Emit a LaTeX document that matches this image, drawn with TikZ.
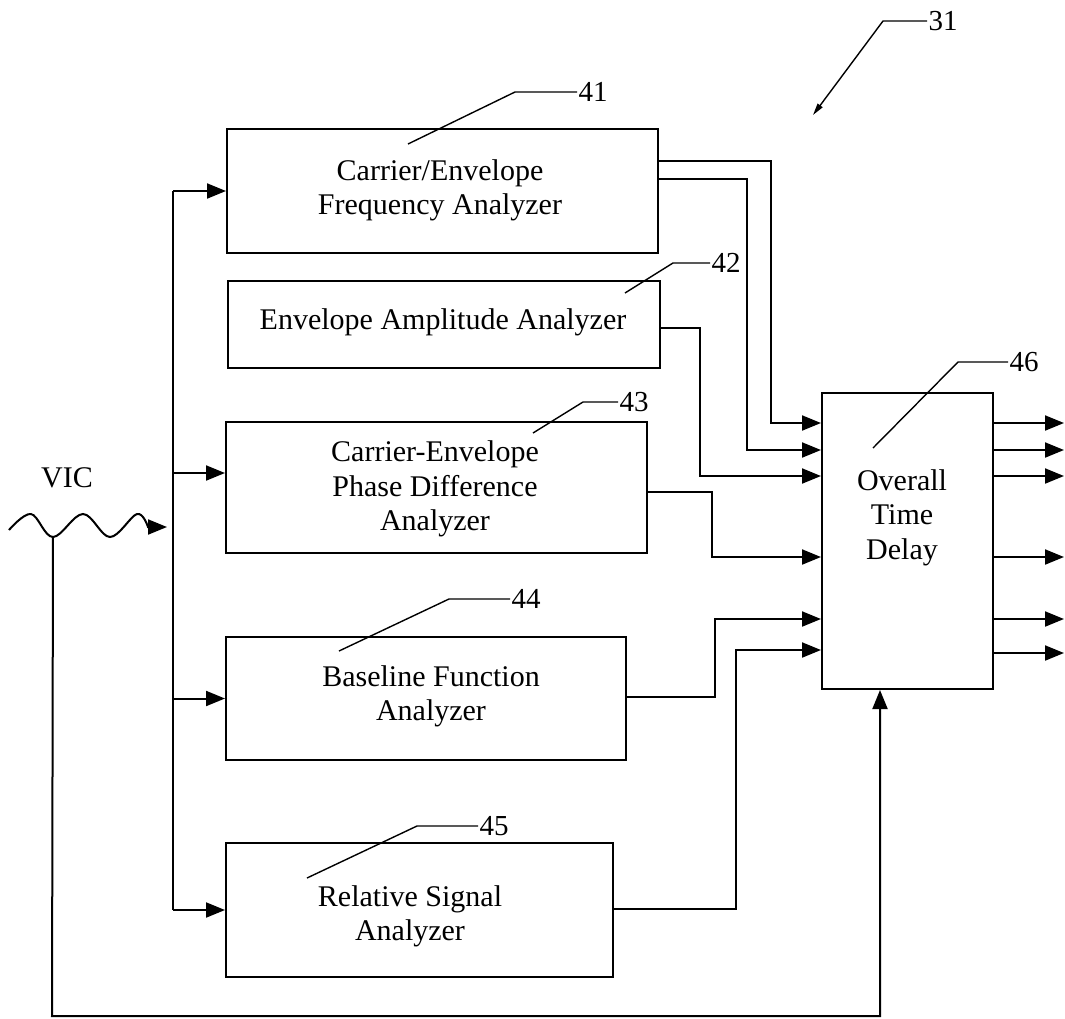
\documentclass[tikz,border=0pt]{standalone}
\usepackage{fontspec}
\setmainfont{Liberation Serif}
\usetikzlibrary{arrows.meta}
\begin{document}
\begin{tikzpicture}[x=1pt,y=-1pt,
  blk/.style={draw,line width=2pt,inner sep=0pt},
  txt/.style={font=\fontsize{30}{34.5}\selectfont,align=center,inner sep=0pt},
  lbl/.style={font=\fontsize{29}{32}\selectfont,inner sep=0pt,anchor=west,xshift=1pt},
  wire/.style={line width=2pt},
  arr/.style={line width=2pt,-{Triangle[length=19pt,width=15pt]}},
  lead/.style={line width=1.4pt}]
\useasboundingbox (0,0) rectangle (1065,1018);
% blocks
\node[blk,minimum width=431pt,minimum height=124pt] (b41) at (442.5,191) {};
\node[blk,minimum width=432pt,minimum height=87pt] (b42) at (444,324.5) {};
\node[blk,minimum width=421pt,minimum height=131pt] (b43) at (436.5,487.5) {};
\node[blk,minimum width=400pt,minimum height=123pt] (b44) at (426,698.5) {};
\node[blk,minimum width=387pt,minimum height=134pt] (b45) at (419.5,910) {};
\node[blk,minimum width=171pt,minimum height=296pt] (b46) at (907.5,541) {};
% texts
\node[txt] (t41) at (440,190.5) {Carrier/Envelope\\Frequency Analyzer};
\node[txt] (t42) at (443,322) {Envelope Amplitude Analyzer};
\node[txt] (t43) at (435,489) {Carrier-Envelope\\Phase Difference\\Analyzer};
\node[txt] (t44) at (431,696.5) {Baseline Function\\Analyzer};
\node[txt] (t45) at (410,916.5) {Relative Signal\\Analyzer};
\node[txt] (t46) at (902,517.5) {Overall\\Time\\Delay};
\node[txt] (vic) at (67,478) {VIC};
% input wave
\coordinate (vicend) at (167,527);
\coordinate (fb) at (53,537);
\draw[arr] plot[smooth,tension=0.6] coordinates {(9,530) (31,514) (53,537) (83,514) (110,537) (137,514) (148,527)} -- (vicend);
% bus
\coordinate (bt) at (173,191);
\coordinate (bb) at (173,910);
\draw[wire] (bt) -- (bb);
\draw[arr] (bt) -- (b41.west);
\draw[arr] (bt |- 0,473) -- (b43.west |- 0,473);
\draw[arr] (bt |- b44.west) -- (b44.west);
\draw[arr] (bb) -- (b45.west);
% connectors into 46
\draw[arr] (b41.east |- 0,161) -- (771,161) -- (771,423) -- (b46.west |- 0,423);
\draw[arr] (b41.east |- 0,179) -- (747,179) -- (747,450) -- (b46.west |- 0,450);
\draw[arr] (b42.east |- 0,328) -- (700,328) -- (700,476) -- (b46.west |- 0,476);
\draw[arr] (b43.east |- 0,492) -- (712,492) -- (712,557) -- (b46.west |- 0,557);
\draw[arr] (b44.east |- 0,697) -- (715,697) -- (715,619) -- (b46.west |- 0,619);
\draw[arr] (b45.east |- 0,909) -- (736,909) -- (736,650) -- (b46.west |- 0,650);
% feedback
\draw[arr] (fb) -- (52,1016) -- (880,1016) -- (b46.south -| 880,0);
% outputs
\foreach \yy in {423,450,476,557,619,653} \draw[arr] (b46.east |- 0,\yy) -- (1064,\yy);
% reference labels
\draw[lead] (408,144) -- (515,92) -- (577,92) node[lbl] (l41) {41};
\draw[lead] (625,293) -- (673,263) -- (710,263) node[lbl] (l42) {42};
\draw[lead] (533,433) -- (583,402) -- (618,402) node[lbl] (l43) {43};
\draw[lead] (339,651) -- (449,599) -- (510,599) node[lbl] (l44) {44};
\draw[lead] (307,878) -- (417,826) -- (478,826) node[lbl] (l45) {45};
\draw[lead] (873,448) -- (958,362) -- (1008,362) node[lbl] (l46) {46};
\draw[lead,-{Triangle[length=12pt,width=6pt]}] (927,21) node[lbl] (l31) {31} -- (883,21) -- (813,115);
\end{tikzpicture}
\end{document}
